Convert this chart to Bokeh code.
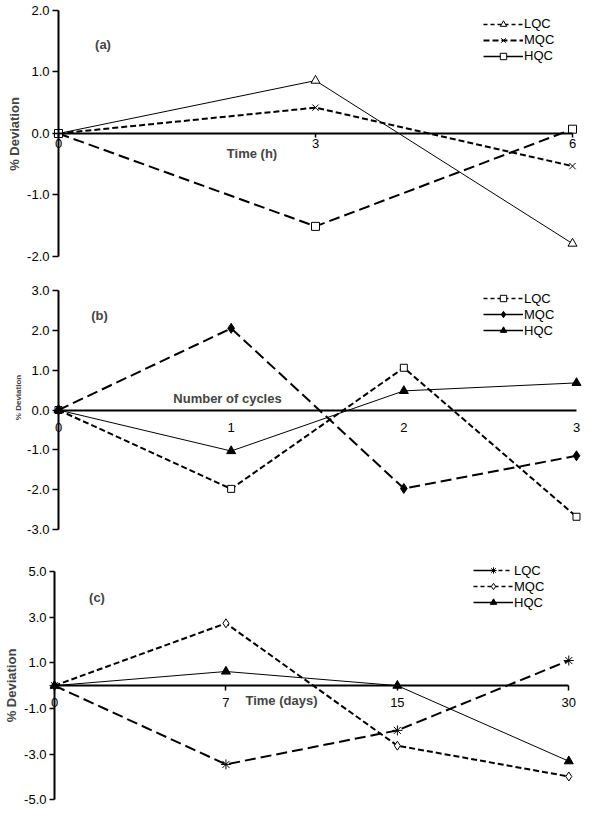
import math
from bokeh.plotting import figure
from bokeh.models import (Range1d, FixedTicker, NumeralTickFormatter, Legend,
                          LegendItem, Label)
from bokeh.layouts import column
from bokeh.embed import file_html
from bokeh.resources import INLINE

FONT = "Liberation Sans"
NAN = float("nan")

# ---------------- data ----------------
a_categories = ["0", "3", "6"]
a_lqc = [0.0, 0.86, -1.79]
a_mqc = [0.0, 0.42, -0.53]
a_hqc = [0.0, -1.51, 0.07]
a_yticks = [-2, -1, 0, 1, 2]

b_categories = ["0", "1", "2", "3"]
b_lqc = [0.0, -1.98, 1.06, -2.68]
b_mqc = [0.0, 2.05, -1.97, -1.15]
b_hqc = [0.0, -1.03, 0.48, 0.68]
b_yticks = [-3, -2, -1, 0, 1, 2, 3]

c_categories = ["0", "7", "15", "30"]
c_lqc = [0.0, -3.45, -1.96, 1.10]
c_mqc = [0.0, 2.73, -2.63, -3.98]
c_hqc = [0.0, 0.62, 0.0, -3.31]
c_yticks = [-5, -3, -1, 1, 3, 5]

series_names = ["LQC", "MQC", "HQC"]
y_title = "% Deviation"

LONG = "11 5"
SHORT = "6 3"


def make_panel(h, xr, yr, cats, yticks, series, legend_styles, legend_loc,
               tag, tag_pos, xtitle, xtitle_pos, xtick_out, xstandoff, ytick_out,
               ytitle_pos, ytitle_size):
    idx = list(range(len(cats)))
    p = figure(width=592, height=h, x_range=Range1d(*xr), y_range=Range1d(*yr),
               output_backend="svg", toolbar_location=None,
               min_border_left=0, min_border_right=0, min_border_top=0,
               min_border_bottom=0)
    p.outline_line_color = None
    p.grid.visible = False
    p.background_fill_color = "white"
    p.border_fill_color = "white"

    xa = p.xaxis[0]
    xa.fixed_location = 0
    xa.bounds = (0, len(cats) - 1)
    xa.ticker = FixedTicker(ticks=idx)
    xa.major_label_overrides = {i: c for i, c in enumerate(cats)}
    xa.axis_line_width = 2
    xa.major_tick_in = 0
    xa.major_tick_out = xtick_out
    xa.major_tick_line_width = 1.5
    xa.minor_tick_line_color = None
    xa.major_label_standoff = xstandoff
    xa.major_label_text_font = FONT
    xa.major_label_text_font_size = "13px"
    xa.major_label_text_color = "black"

    ya = p.yaxis[0]
    ya.fixed_location = 0
    ya.bounds = (yticks[0], yticks[-1])
    ya.ticker = FixedTicker(ticks=yticks)
    ya.formatter = NumeralTickFormatter(format="0.0")
    ya.axis_line_width = 2
    ya.major_tick_in = 0
    ya.major_tick_out = ytick_out
    ya.major_tick_line_width = 1.5
    ya.minor_tick_line_color = None
    ya.major_label_standoff = 3
    ya.major_label_text_font = FONT
    ya.major_label_text_font_size = "13px"
    ya.major_label_text_color = "black"

    # plotted series
    for vals, (dash, lw, marker, msize, fill) in series:
        p.line(idx, vals, line_color="black", line_width=lw, line_dash=dash)
        p.scatter(idx, vals, marker=marker, size=msize, line_color="black",
                  fill_color=fill, line_width=1)

    # legend keys (styles as shown in the original key)
    items = []
    for name, (dash, lw, marker, msize, fill) in zip(series_names, legend_styles):
        lr = p.line([NAN], [NAN], line_color="black", line_width=lw, line_dash=dash)
        sr = p.scatter([NAN], [NAN], marker=marker, size=msize, line_color="black",
                       fill_color=fill, line_width=1)
        items.append(LegendItem(label=name, renderers=[lr, sr]))
    leg = Legend(items=items, location=legend_loc, padding=0, spacing=0,
                 margin=0, glyph_width=40, glyph_height=16, label_height=16,
                 label_standoff=1, border_line_color=None,
                 background_fill_alpha=0, label_text_font=FONT,
                 label_text_font_size="13px", label_text_color="black")
    p.add_layout(leg)

    p.add_layout(Label(x=tag_pos[0], y=tag_pos[1], x_units="screen",
                       y_units="screen", text=tag, text_font=FONT,
                       text_font_size="13px", text_font_style="bold",
                       text_align="center", text_baseline="middle"))
    p.add_layout(Label(x=xtitle_pos[0], y=xtitle_pos[1], x_units="screen",
                       y_units="screen", text=xtitle, text_font=FONT,
                       text_font_size="13px", text_font_style="bold",
                       text_align="center", text_baseline="middle"))
    p.add_layout(Label(x=ytitle_pos[0], y=ytitle_pos[1], x_units="screen",
                       y_units="screen", text=y_title, angle=math.pi / 2,
                       text_font=FONT, text_font_size=ytitle_size,
                       text_font_style="bold", text_align="center",
                       text_baseline="middle"))
    return p


pa = make_panel(
    272, (-0.2257, 2.0778), (-2.2602, 2.1626), a_categories, a_yticks,
    [(a_lqc, ("solid", 1, "triangle", 9, "white")),
     (a_mqc, (SHORT, 2, "x", 9, "white")),
     (a_hqc, (LONG, 2, "square", 8, "white"))],
    [("4 3", 1.5, "triangle", 8, "white"),
     ("6 3", 2, "x", 9, "white"),
     ("solid", 1.5, "square", 8, "white")],
    (483, 208.5), "(a)", (102.5, 228), "Time (h)", (251.5, 119.5), 4, 2, 6,
    (14, 272 - 133.5), "13px")

pb = make_panel(
    276, (-0.3359, 3.0927), (-3.477, 3.4519), b_categories, b_yticks,
    [(b_lqc, (SHORT, 2, "square", 7, "white")),
     (b_mqc, (LONG, 2, "diamond", 10, "black")),
     (b_hqc, ("solid", 1, "triangle", 9, "black"))],
    [("4 3", 1.5, "square", 7, "white"),
     ("solid", 1.5, "diamond", 10, "black"),
     ("solid", 1.5, "triangle", 9, "black")],
    (483, 210), "(b)", (99, 233), "Number of cycles", (227, 150.5), 0, 13, 6,
    (18, 276 - 125), "8px")

pc = make_panel(
    262, (-0.315, 3.1383), (-5.469, 6.007), c_categories, c_yticks,
    [(c_lqc, (LONG, 2, "asterisk", 10, "white")),
     (c_mqc, (SHORT, 2, "diamond", 9, "white")),
     (c_hqc, ("solid", 1, "triangle", 9, "black"))],
    [("22 3 4 3 4 4", 1.5, "asterisk", 9, "white"),
     ("4 3", 1.5, "diamond", 9, "white"),
     ("solid", 1.5, "triangle", 9, "black")],
    (473, 200), "(c)", (96.5, 213), "Time (days)", (281, 110), 5, 7, 5,
    (10.5, 262 - 137), "13px")

layout = column(pa, pb, pc)
open("out.html", "w").write(file_html(layout, INLINE))
